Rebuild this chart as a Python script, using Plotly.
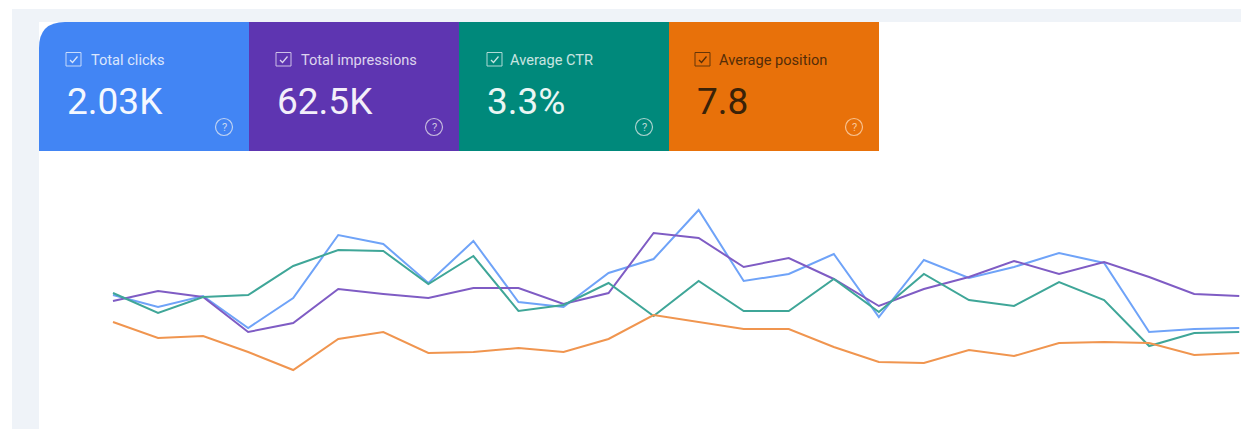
import plotly.graph_objects as go

W, H = 1241, 429
days = list(range(26))
# Index values per series (hidden axis, higher = further up)
total_clicks = [134,122,133,101,131,194,185,146,188,127,122,156,170,219,148,155,175,112,169,151,162,176,166,97,100,101]
total_impressions = [128,138,132,97,106,140,135,131,141,141,125,136,196,191,162,171,150,123,140,152,168,155,167,152,135,133]
average_ctr = [136,116,132,134,163,179,178,145,173,118,124,146,113,148,118,118,150,117,155,129,123,147,129,83,96,97]
average_position = [107,91,93,77,59,90,97,76,77,81,77,90,114,107,100,100,82,67,66,79,73,86,87,86,74,76]

card_titles = ["Total clicks", "Total impressions", "Average CTR", "Average position"]
card_values = ["2.03K", "62.5K", "3.3%", "7.8"]
card_colors = ["#4285F4", "#5E35B1", "#00897B", "#E8710A"]
card_inks = ["#F4F8FF", "#F3EFFA", "#EAF6F4", "#3A2208"]
line_colors = ["#6FA3F8", "#7F5CC4", "#3FA698", "#F0954F"]
series_names = card_titles
series_values = [total_clicks, total_impressions, average_ctr, average_position]

def px(x):
    return x / W

def py(y):
    return 1 - y / H

fig = go.Figure()
for name, vals, col in zip(series_names, series_values, line_colors):
    fig.add_trace(go.Scatter(x=days, y=vals, mode="lines", name=name,
                             line=dict(color=col, width=2), hoverinfo="skip"))

shapes = []
BAND = "#EFF3F8"
def rect(x0, y0, x1, y1, color):
    shapes.append(dict(type="rect", xref="paper", yref="paper", layer="below",
                       x0=px(x0), x1=px(x1), y0=py(y1), y1=py(y0),
                       fillcolor=color, line=dict(width=0)))

rect(12, 9, W, 22, BAND)
rect(12, 9, 39, H, BAND)

card_edges = [39, 249, 459, 669, 879]
check_x = [66, 276, 487, 695]
title_x = [89, 299, 508, 717]
top, bottom = 22, 151
annotations = []
for i in range(4):
    x0, x1 = card_edges[i], card_edges[i + 1]
    ink = card_inks[i]
    if i == 0:
        r = 26
        path = (f"M {px(x0)},{py(bottom)} L {px(x0)},{py(top + r)} "
                f"Q {px(x0)},{py(top)} {px(x0 + r)},{py(top)} "
                f"L {px(x1)},{py(top)} L {px(x1)},{py(bottom)} Z")
        shapes.append(dict(type="path", xref="paper", yref="paper", layer="below",
                           path=path, fillcolor=card_colors[i], line=dict(width=0)))
    else:
        rect(x0, top, x1, bottom, card_colors[i])
    # checkbox
    bx = check_x[i]
    shapes.append(dict(type="rect", xref="paper", yref="paper", layer="above",
                       x0=px(bx), x1=px(bx + 15), y0=py(66), y1=py(52.5),
                       line=dict(color=ink, width=1), fillcolor="rgba(0,0,0,0)", opacity=0.75))
    shapes.append(dict(type="path", xref="paper", yref="paper", layer="above",
                       path=f"M {px(bx + 4)},{py(60)} L {px(bx + 6.5)},{py(62.5)} L {px(bx + 11.5)},{py(56.5)}",
                       line=dict(color=ink, width=1.3), opacity=0.85))
    annotations.append(dict(text=card_titles[i], xref="paper", yref="paper", showarrow=False,
                            x=px(title_x[i]), y=py(59.5), xanchor="left", yanchor="middle",
                            font=dict(family="Roboto", size=14.6, color=ink), opacity=0.85))
    annotations.append(dict(text=card_values[i], xref="paper", yref="paper", showarrow=False,
                            x=px(x0 + 26), y=py(101), xanchor="left", yanchor="middle",
                            font=dict(family="Roboto", size=37, color=ink)))
    # help icon
    cx, cy = x1 - 25, 127
    icon = "#F2F2F2" if i < 3 else "#FFE4C8"
    shapes.append(dict(type="circle", xref="paper", yref="paper", layer="above",
                       x0=px(cx - 8.5), x1=px(cx + 8.5), y0=py(cy + 8.5), y1=py(cy - 8.5),
                       line=dict(color=icon, width=1.2), fillcolor="rgba(0,0,0,0)", opacity=0.7))
    annotations.append(dict(text="?", xref="paper", yref="paper", showarrow=False,
                            x=px(cx), y=py(cy), xanchor="center", yanchor="middle",
                            font=dict(family="Roboto", size=11, color=icon), opacity=0.75))

fig.update_layout(
    width=W, height=H, margin=dict(l=0, r=0, t=0, b=0),
    paper_bgcolor="#FFFFFF", plot_bgcolor="rgba(0,0,0,0)", showlegend=False,
    shapes=shapes, annotations=annotations,
    xaxis=dict(visible=False, range=[-113 / 45.05, (W - 113) / 45.05], fixedrange=True),
    yaxis=dict(visible=False, range=[0, H], fixedrange=True),
)
fig.write_html("out.html", config={"displayModeBar": False},
               post_script="document.body.style.margin='0';document.body.style.overflow='hidden';")
